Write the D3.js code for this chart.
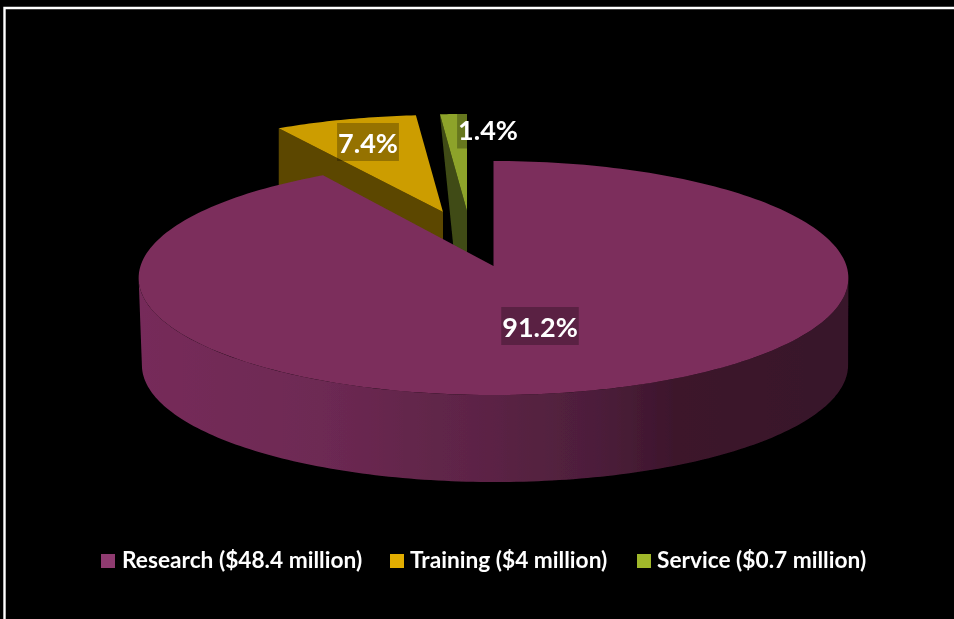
<!DOCTYPE html>
<html>
<head>
<meta charset="utf-8">
<script src="https://cdn.jsdelivr.net/npm/d3@7"></script>
<style>
html,body{margin:0;padding:0;background:#000;}
svg{display:block;}
text{font-family:Lato,"Open Sans",sans-serif;font-weight:700;fill:#fff;}
</style>
</head>
<body>
<div id="chart"></div>
<script>
// Data
const categories = ["Research", "Training", "Service"];
const shares = [91.2, 7.4, 1.4];
const shareLabels = ["91.2%", "7.4%", "1.4%"];
const legendLabels = ["Research ($48.4 million)", "Training ($4 million)", "Service ($0.7 million)"];

// Styling
const topColors = ["#7c2e5c", "#cc9d00", "#8da329"];
const wallColors = ["url(#mainWall)", "#5c4700", "#3f4c14"];
const markerColors = ["#8f3a70", "#e2ad00", "#a0b82c"];
const W = 954, H = 619;
const persp = 0.1026;
const sliceGeom = {
  Research: {ax: 493.5, ay: 266, rx: 353, ry: 115.8},
  Training: {ax: 443, ay: 212, rx: 340, ry: 107},
  Service:  {ax: 467, ay: 211, rx: 340, ry: 107}
};
const labelPos = {Research: [540, 326], Training: [368, 142], Service: [488, 129.5]};
const legendPos = {Research: [101, 122], Training: [390, 410], Service: [637, 657]};

const svg = d3.select("#chart").append("svg").attr("width", W).attr("height", H).attr("viewBox", `0 0 ${W} ${H}`);
const defs = svg.append("defs");
const soft = defs.append("filter").attr("id", "soft").attr("x", "-5%").attr("y", "-5%").attr("width", "110%").attr("height", "110%");
soft.append("feGaussianBlur").attr("stdDeviation", 0.55);
const softer = defs.append("filter").attr("id", "softText").attr("x", "-5%").attr("y", "-20%").attr("width", "110%").attr("height", "140%");
softer.append("feGaussianBlur").attr("stdDeviation", 0.5);
const grad = defs.append("linearGradient").attr("id", "mainWall").attr("gradientUnits", "userSpaceOnUse")
  .attr("x1", 140).attr("x2", 848).attr("y1", 0).attr("y2", 0);
[[140,"#762b5a"],[320,"#6d2953"],[500,"#5a2344"],[600,"#4c1e3a"],[680,"#3c152b"],[848,"#38142a"]]
  .forEach(([x, c]) => grad.append("stop").attr("offset", (x - 140) / 708).attr("stop-color", c));

svg.append("rect").attr("width", W).attr("height", H).attr("fill", "#000");
// frame
svg.append("path").attr("d", `M4.5 ${H}V8H${W}`).attr("fill", "none").attr("stroke", "#fff").attr("stroke-width", 2.4);

const pie = d3.pie().sort(null).value(d => d)(shares);
const proj = (g, a) => {
  const d = 1 + persp * Math.cos(a);
  return [g.ax + g.rx * Math.sin(a) / d, g.ay - g.ry * Math.cos(a) / d];
};
const arcPts = (g, a0, a1, n = 120) => d3.range(n + 1).map(i => proj(g, a0 + (a1 - a0) * i / n));
const line = d3.line();
const plot = svg.append("g").attr("filter", "url(#soft)");

const S = pie[2], T = pie[1], R = pie[0];
const gS = sliceGeom.Service, gT = sliceGeom.Training, gR = sliceGeom.Research;

// Service: cut face
const sc = proj(gS, S.startAngle);
plot.append("path").attr("fill", wallColors[2])
  .attr("d", line([sc, [gS.ax, gS.ay], [gS.ax, gS.ay + 60], [gS.ax - 12, gS.ay + 52]]) + "Z");
plot.append("path").attr("fill", topColors[2])
  .attr("d", line([[gS.ax, gS.ay], ...arcPts(gS, S.startAngle, S.endAngle, 12)]) + "Z");

// Training: cut face
const tc = proj(gT, T.startAngle);
plot.append("path").attr("fill", wallColors[1])
  .attr("d", line([tc, [gT.ax, gT.ay], [gT.ax, gT.ay + 70], [tc[0], tc[1] + 70]]) + "Z");
plot.append("path").attr("fill", topColors[1])
  .attr("d", line([[gT.ax, gT.ay], ...arcPts(gT, T.startAngle, T.endAngle, 30)]) + "Z");

// Research: outer wall from silhouette to silhouette, then top
const silhouette = Math.acos(-persp);
const wallTop = arcPts(gR, silhouette, 2 * Math.PI - silhouette, 160);
const wallDepth = 87, wallShrink = 0.995;
const wallBottom = wallTop.map(([x, y]) => [gR.ax + 1.5 + (x - gR.ax) * wallShrink, y + wallDepth]);
plot.append("path").attr("fill", wallColors[0])
  .attr("d", line([...wallTop, ...wallBottom.reverse()]) + "Z");
plot.append("path").attr("fill", topColors[0])
  .attr("d", line([[gR.ax, gR.ay], ...arcPts(gR, R.startAngle, R.endAngle, 240)]) + "Z");

// Percent labels
categories.forEach((c, i) => {
  const [x, y] = labelPos[c];
  const t = svg.append("text").attr("x", x).attr("y", y).attr("text-anchor", "middle")
    .attr("dominant-baseline", "central").attr("font-size", 27).attr("filter", "url(#softText)").text(shareLabels[i]);
  const b = t.node().getBBox();
  svg.insert("rect", () => t.node())
    .attr("x", b.x - 1).attr("y", y - 19).attr("width", b.width + 2).attr("height", 38)
    .attr("fill", "#000").attr("fill-opacity", 0.27);
});

// Legend
categories.forEach((c, i) => {
  const [mx, tx] = legendPos[c];
  svg.append("rect").attr("x", mx).attr("y", 554).attr("width", 14).attr("height", 14).attr("fill", markerColors[i]).attr("filter", "url(#soft)");
  svg.append("text").attr("x", tx).attr("y", 568).attr("font-size", 22.7).attr("filter", "url(#softText)").text(legendLabels[i]);
});
</script>
</body>
</html>
